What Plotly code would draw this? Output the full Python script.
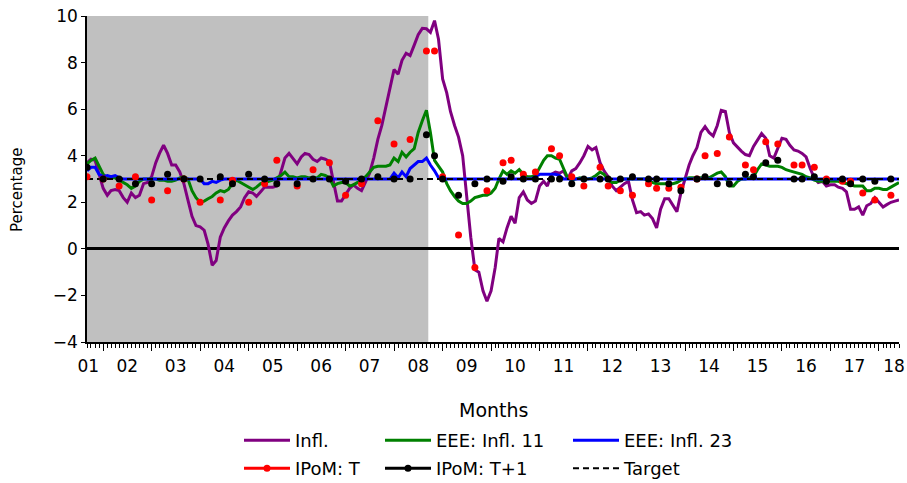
import pandas as pd
import plotly.graph_objects as go

# ---------------- data ----------------
START = "2001-09-01"   # first monthly observation

infl = [
    3.7, 3.85, 3.8, 3.2,
    2.6, 2.3, 2.5, 2.55, 2.5, 2.2, 2.0, 2.4, 2.2, 2.3, 2.8, 2.85,
    3.1, 3.7, 4.1, 4.45, 4.1, 3.6, 3.6, 3.3, 2.8, 2.1, 1.4, 1.0,
    0.95, 0.8, 0.2, -0.7, -0.5, 0.5, 0.9, 1.2, 1.45, 1.6, 1.8, 2.2,
    2.45, 2.4, 2.25, 2.45, 2.65, 2.65, 2.65, 2.7, 3.3, 3.9, 4.1, 3.9,
    3.65, 3.95, 4.1, 4.05, 3.85, 3.75, 3.9, 3.85, 3.75, 2.9, 2.05, 2.05,
    2.3, 2.6, 2.75, 2.6, 2.5, 2.85, 3.25, 3.9, 4.7, 5.3, 6.1, 7.0,
    7.7, 7.5, 8.1, 8.4, 8.3, 8.75, 9.2, 9.47, 9.45, 9.3, 9.8, 9.0,
    7.3, 6.7, 5.9, 5.3, 4.8, 4.0, 2.3, 0.5, -0.9, -1.0, -1.8, -2.25,
    -1.8, -0.8, 0.45, 0.3, 0.9, 1.4, 1.1, 2.2, 2.45, 2.1, 1.95, 2.05,
    2.7, 2.9, 2.7, 3.2, 3.3, 3.25, 3.35, 3.0, 3.35, 3.45, 3.7, 4.0,
    4.4, 4.25, 4.35, 3.7, 3.35, 3.1, 2.7, 2.5, 2.65, 2.8, 2.9, 2.1,
    1.55, 1.6, 1.45, 1.5, 1.3, 0.9, 1.7, 2.15, 2.15, 1.9, 1.6, 2.4,
    3.0, 3.6, 4.0, 4.35, 5.0, 5.25, 5.0, 4.85, 5.3, 5.95, 5.9, 5.0,
    4.55, 4.35, 4.2, 4.05, 4.0, 4.4, 4.65, 4.95, 4.75, 4.0, 3.9, 4.3,
    4.75, 4.7, 4.45, 4.25, 4.2, 4.1, 3.95, 3.45, 3.05, 2.85, 2.9, 2.7,
    2.75, 2.75, 2.65, 2.6, 2.45, 1.7, 1.7, 1.8, 1.45, 1.85, 1.95, 2.2,
    2.0, 1.8, 1.9, 2.0, 2.05, 2.1,
]

eee11 = [
    3.65, 3.8, 3.9, 3.55,
    3.2, 3.05, 3.05, 3.05, 2.95, 2.85, 2.75, 2.6, 2.7, 2.9, 3.0, 3.0,
    3.0, 3.0, 2.95, 2.95, 2.9, 2.9, 2.95, 3.05, 3.1, 3.0, 2.5, 2.2,
    2.0, 2.05, 2.15, 2.25, 2.4, 2.5, 2.45, 2.55, 2.8, 2.95, 2.85, 2.75,
    2.65, 2.55, 2.65, 2.8, 2.85, 2.9, 2.95, 3.05, 3.15, 3.3, 3.1, 3.1,
    3.05, 3.1, 3.1, 3.05, 3.05, 3.05, 3.2, 3.15, 3.05, 2.7, 2.8, 2.85,
    2.85, 2.7, 2.75, 2.85, 2.95, 3.1, 3.3, 3.5, 3.55, 3.55, 3.55, 3.6,
    3.9, 3.75, 4.15, 3.95, 4.15, 4.3, 5.0, 5.5, 5.95, 5.0, 3.8, 3.55,
    3.3, 2.8, 2.5, 2.25, 2.05, 1.95, 1.95, 2.05, 2.2, 2.25, 2.3, 2.3,
    2.4, 2.6, 3.0, 3.35, 3.2, 3.35, 3.25, 3.4, 3.2, 3.1, 3.1, 3.15,
    3.45, 3.8, 4.0, 4.0, 3.9, 3.85, 3.45, 3.05, 2.95, 3.0, 3.05, 3.0,
    3.0, 3.05, 3.15, 3.3, 3.2, 2.95, 2.85, 2.85, 2.95, 3.0, 3.0, 3.0,
    3.0, 3.0, 3.0, 2.9, 2.85, 2.8, 2.8, 2.8, 2.8, 2.8, 2.85, 2.95,
    3.0, 3.05, 3.05, 3.05, 3.05, 3.05, 3.05, 3.15, 3.25, 3.3, 3.1, 2.7,
    2.7, 2.9, 3.0, 3.0, 3.05, 3.1, 3.4, 3.65, 3.6, 3.55, 3.55, 3.55,
    3.5, 3.4, 3.35, 3.3, 3.25, 3.2, 3.1, 3.05, 2.95, 2.9, 2.9, 2.9,
    2.9, 2.9, 2.9, 2.85, 2.8, 2.75, 2.7, 2.7, 2.7, 2.5, 2.5, 2.6,
    2.6, 2.55, 2.55, 2.65, 2.75, 2.85,
]

eee23 = [
    3.35, 3.5, 3.5, 3.2,
    3.1, 3.15, 3.1, 3.15, 3.05, 3.0, 3.0, 3.0, 3.0, 3.0, 3.0, 3.0,
    3.0, 3.0, 3.0, 3.0, 3.0, 3.0, 3.0, 3.0, 3.0, 3.0, 3.0, 3.0,
    3.0, 2.8, 2.8, 2.9, 2.85, 2.95, 3.0, 3.0, 3.0, 3.0, 3.0, 3.0,
    3.0, 3.0, 3.0, 3.0, 3.0, 3.0, 3.0, 3.0, 3.0, 3.0, 3.0, 3.0,
    3.0, 3.0, 3.0, 3.0, 3.0, 3.0, 3.0, 3.0, 3.0, 3.0, 3.0, 3.0,
    3.0, 3.0, 3.0, 3.0, 3.0, 3.0, 3.0, 3.0, 3.0, 3.0, 3.0, 3.0,
    3.25, 3.05, 3.3, 3.1, 3.45, 3.6, 3.75, 3.75, 3.9, 3.6, 3.35, 3.05,
    3.0, 3.0, 3.0, 3.0, 3.0, 3.0, 3.0, 3.0, 3.0, 3.0, 3.0, 3.0,
    3.0, 3.0, 3.0, 3.0, 3.0, 3.0, 3.0, 3.0, 3.0, 3.0, 3.0, 3.1,
    3.2, 3.2, 3.2, 3.2, 3.2, 3.15, 3.0, 3.0, 3.0, 3.0, 3.0, 3.0,
    3.0, 3.0, 3.0, 3.0, 3.0, 3.0, 3.0, 3.0, 3.0, 3.0, 3.0, 3.0,
    3.0, 3.0, 3.0, 3.0, 3.0, 3.0, 3.0, 3.0, 3.0, 3.0, 3.0, 3.0,
    3.0, 3.0, 3.0, 3.0, 3.0, 3.0, 3.0, 3.0, 3.0, 3.0, 3.0, 3.0,
    3.0, 3.0, 3.0, 3.0, 3.0, 3.0, 3.0, 3.0, 3.0, 3.0, 3.0, 3.0,
    3.0, 3.0, 3.0, 3.0, 3.0, 3.0, 3.0, 3.0, 3.0, 3.0, 3.0, 3.0,
    3.0, 3.0, 3.0, 3.0, 3.0, 3.0, 3.0, 3.0, 3.0, 3.0, 3.0, 3.0,
    3.0, 3.0, 3.0, 3.0, 3.0, 3.0,
]

ipom_months = [
    "2001-09", "2002-01", "2002-05", "2002-09", "2003-01", "2003-05", "2003-09",
    "2004-01", "2004-06", "2004-09", "2005-01", "2005-05", "2005-08", "2006-01",
    "2006-05", "2006-09", "2007-01", "2007-05", "2007-09", "2008-01", "2008-05",
    "2008-09", "2008-11", "2009-01", "2009-05", "2009-09", "2009-12", "2010-04",
    "2010-06", "2010-09", "2010-12", "2011-04", "2011-06", "2011-09", "2011-12",
    "2012-04", "2012-06", "2012-09", "2012-12", "2013-04", "2013-06", "2013-09",
    "2013-12", "2014-04", "2014-06", "2014-09", "2014-12", "2015-04", "2015-06",
    "2015-09", "2015-12", "2016-04", "2016-06", "2016-09", "2016-12", "2017-04",
    "2017-06", "2017-09", "2017-12", "2018-04",
]
ipom_t = [
    3.1, 3.0, 2.7, 3.1, 2.1, 2.5, 3.0,
    2.0, 2.1, 2.95, 2.0, 2.8, 3.8, 2.7,
    3.4, 3.7, 2.3, 2.8, 5.5, 4.5, 4.7,
    8.5, 8.5, 3.1, 0.6, -0.8, 2.5, 3.7,
    3.8, 3.2, 3.3, 4.3, 4.0, 3.1, 2.7,
    3.5, 2.7, 2.5, 2.3, 2.8, 2.6, 2.6,
    2.65, 3.0, 4.0, 4.1, 4.8, 3.6, 3.4,
    4.6, 4.5, 3.6, 3.6, 3.5, 3.0, 2.9,
    2.9, 2.4, 2.1, 2.3,
]
ipom_t1 = [
    3.5, 3.0, 3.0, 2.8, 2.8, 3.2, 3.0,
    3.0, 3.1, 2.8, 3.2, 3.0, 2.8, 2.8,
    3.0, 3.0, 2.9, 3.0, 3.1, 3.0, 3.0,
    4.9, 4.0, 3.0, 2.3, 2.8, 3.0, 2.9,
    3.1, 3.0, 3.0, 3.0, 3.0, 2.8, 3.0,
    3.0, 3.0, 3.0, 3.1, 3.0, 3.0, 2.8,
    2.5, 3.0, 3.1, 2.8, 2.8, 3.2, 3.1,
    3.7, 3.8, 3.0, 3.0, 3.1, 2.9, 3.0,
    2.8, 3.0, 2.9, 3.0,
]
TARGET = 3.0

year_labels = ["01", "02", "03", "04", "05", "06", "07", "08", "09",
               "10", "11", "12", "13", "14", "15", "16", "17", "18"]

# ---------------- layout helpers (positions / styles) ----------------
X_RANGE = ["2001-09-01", "2018-06-01"]
SHADE_END = "2008-09-15"
label_pos = ["2001-09-10"] + [f"{y}-07-01" for y in range(2002, 2018)] + ["2018-04-25"]
year_ticks = [f"{y}-01-01" for y in range(2002, 2019)]
month_ticks = [d.strftime("%Y-%m-%d") for d in pd.date_range(X_RANGE[0], X_RANGE[1], freq="MS")]
FONT = "DejaVu Sans"

months = [d.strftime("%Y-%m-%d") for d in pd.date_range(START, periods=len(infl), freq="MS")]
ipom_dates = [m + "-01" for m in ipom_months]


def gapped(xs, ys):
    gx, gy = [], []
    for a, b in zip(xs, ys):
        gx += [a, None]
        gy += [b, None]
    return gx, gy


fig = go.Figure()
fig.add_trace(go.Scatter(x=months, y=infl, mode="lines", name="Infl.",
                         line=dict(color="#800080", width=3),
                         legend="legend", legendgroup="a"))
fig.add_trace(go.Scatter(x=months, y=eee11, mode="lines", name="EEE: Infl. 11",
                         line=dict(color="#008000", width=3),
                         legend="legend2", legendgroup="b"))
fig.add_trace(go.Scatter(x=months, y=eee23, mode="lines", name="EEE: Infl. 23",
                         line=dict(color="#0000ff", width=3),
                         legend="legend3", legendgroup="c"))
fig.add_trace(go.Scatter(x=months, y=[TARGET] * len(months), mode="lines", name="Target",
                         line=dict(color="black", width=2, dash="6px,4px"),
                         xaxis="x2", legend="legend3", legendgroup="d"))
rx, ry = gapped(ipom_dates, ipom_t)
fig.add_trace(go.Scatter(x=rx, y=ry, mode="lines+markers", name="IPoM: T",
                         line=dict(color="#ff0000", width=3),
                         marker=dict(color="#ff0000", size=7),
                         connectgaps=False, xaxis="x2",
                         legend="legend", legendgroup="e"))
bx, by = gapped(ipom_dates, ipom_t1)
fig.add_trace(go.Scatter(x=bx, y=by, mode="lines+markers", name="IPoM: T+1",
                         line=dict(color="black", width=3),
                         marker=dict(color="black", size=7),
                         connectgaps=False, xaxis="x2",
                         legend="legend2", legendgroup="f"))

fig.add_shape(type="rect", xref="x", yref="paper", x0=X_RANGE[0], x1=SHADE_END,
              y0=0, y1=1, fillcolor="#c0c0c0", line=dict(width=0), layer="below")

W, H = 907, 483
ML, MR, MT, MB = 87, 8, 16, 141
PW, PH = W - ML - MR, H - MT - MB

leg_common = dict(xref="container", yref="container", xanchor="left", yanchor="top",
                  orientation="v", font=dict(family=FONT, size=18, color="black"),
                  itemwidth=46, bgcolor="rgba(0,0,0,0)", tracegroupgap=1.6,
                  traceorder="grouped")
ROW_TOP = 422
fig.update_layout(
    width=W, height=H, autosize=False,
    margin=dict(l=ML, r=MR, t=MT, b=MB, autoexpand=False),
    plot_bgcolor="white", paper_bgcolor="white",
    font=dict(family=FONT, size=17, color="black"),
    showlegend=True,
    legend=dict(x=239 / W, y=1 - ROW_TOP / H, **leg_common),
    legend2=dict(x=380 / W, y=1 - ROW_TOP / H, **leg_common),
    legend3=dict(x=568 / W, y=1 - ROW_TOP / H, **leg_common),
    xaxis=dict(type="date", range=X_RANGE, tickmode="array", tickvals=year_ticks,
               showticklabels=False, ticks="outside", ticklen=7, tickcolor="black",
               tickwidth=1, showline=True, linecolor="black", linewidth=1.5,
               showgrid=False, zeroline=False,
               minor=dict(tickvals=month_ticks, ticks="outside", ticklen=4,
                          tickcolor="black", tickwidth=1, showgrid=False)),
    xaxis2=dict(type="date", range=X_RANGE, overlaying="x", anchor="y", side="bottom",
                tickmode="array", tickvals=label_pos, ticktext=year_labels,
                ticks="", showline=False, showgrid=False, zeroline=False,
                ticklabelstandoff=12, tickfont=dict(family=FONT, size=17)),
    yaxis=dict(range=[-4, 10], tickmode="linear", tick0=-4, dtick=2,
               ticks="outside", ticklen=4, tickcolor="black", showline=True,
               linecolor="black", linewidth=1.5, showgrid=False,
               zeroline=True, zerolinecolor="black", zerolinewidth=2.5,
               tickfont=dict(family=FONT, size=17)),
    annotations=[
        dict(text="Months", xref="paper", yref="paper", x=0.5, y=(342 - 410) / PH,
             xanchor="center", yanchor="middle", showarrow=False,
             font=dict(family=FONT, size=19)),
        dict(text="Percentage", xref="paper", yref="paper", x=(17 - ML) / PW,
             y=(342 - 190) / PH, xanchor="center", yanchor="middle", textangle=-90,
             showarrow=False, font=dict(family=FONT, size=15)),
    ],
)

fig.write_html("out.html", config={"displayModeBar": False},
               post_script="document.body.style.margin='0px';")
